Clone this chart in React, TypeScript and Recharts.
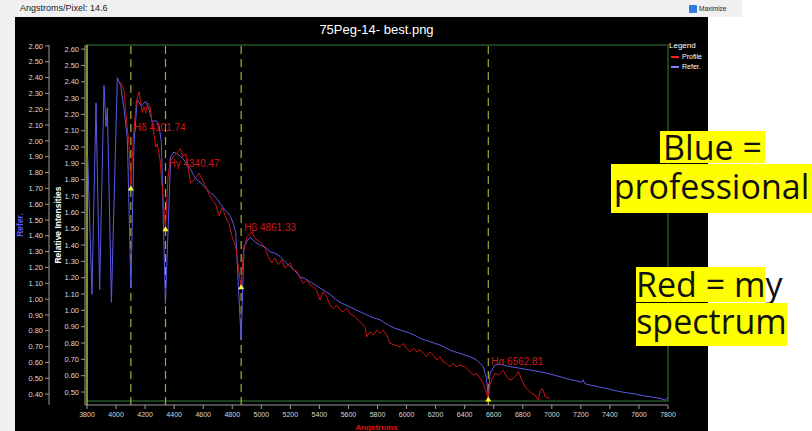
import { ComposedChart, Line, Scatter, XAxis, YAxis, ReferenceLine, ReferenceArea, ReferenceDot, Legend } from 'recharts';

// axis ticks
const xTicks = [3800, 4000, 4200, 4400, 4600, 4800, 5000, 5200, 5400, 5600, 5800, 6000, 6200, 6400, 6600, 6800, 7000, 7200, 7400, 7600, 7800];
const profileTicks = [0.5, 0.6, 0.7, 0.8, 0.9, 1.0, 1.1, 1.2, 1.3, 1.4, 1.5, 1.6, 1.7, 1.8, 1.9, 2.0, 2.1, 2.2, 2.3, 2.4, 2.5, 2.6];
const referTicks = [0.4, 0.5, 0.6, 0.7, 0.8, 0.9, 1.0, 1.1, 1.2, 1.3, 1.4, 1.5, 1.6, 1.7, 1.8, 1.9, 2.0, 2.1, 2.2, 2.3, 2.4, 2.5, 2.6];
const profileDomain = [0.445, 2.625];
const referDomain = [0.356, 2.606];

// reference (professional) spectrum
const refWavelengths = [
  3805, 3834, 3862, 3887, 3917, 3931, 3940, 3968, 4009, 4032, 4055, 4078, 4102, 4124, 4146, 4174, 4204, 4227, 4250, 4273,
  4296, 4312, 4340, 4376, 4399, 4433, 4468, 4490, 4514, 4535, 4559, 4580, 4606, 4630, 4652, 4675, 4697, 4720, 4743, 4765,
  4789, 4810, 4824, 4861, 4881, 4904, 4922, 4960, 4991, 5025, 5060, 5095, 5129, 5160, 5198, 5230, 5267, 5300, 5335, 5370,
  5404, 5440, 5473, 5510, 5542, 5575, 5611, 5645, 5680, 5715, 5748, 5780, 5817, 5850, 5886, 5920, 5955, 5990, 6024, 6060,
  6093, 6130, 6162, 6195, 6230, 6265, 6299, 6330, 6368, 6400, 6437, 6483, 6528, 6550, 6563, 6575, 6609, 6644, 6680, 6712,
  6745, 6781, 6815, 6850, 6885, 6919, 6955, 6988, 7020, 7057, 7090, 7125, 7160, 7194, 7205, 7215, 7228, 7263, 7300, 7332,
  7365, 7401, 7435, 7470, 7505, 7539, 7575, 7607, 7640, 7676, 7710, 7745, 7780, 7800,
];
const refIntensities = [
  1.90, 1.03, 2.24, 1.06, 2.35, 2.09, 2.21, 0.98, 2.40, 2.35, 2.20, 2.01, 1.07, 1.99, 2.26, 2.22, 2.25, 2.20, 2.12, 2.13,
  2.10, 1.99, 0.97, 1.90, 1.93, 1.91, 1.88, 1.85, 1.82, 1.78, 1.75, 1.74, 1.71, 1.69, 1.67, 1.655, 1.63, 1.60, 1.57, 1.55,
  1.52, 1.47, 1.42, 0.74, 1.33, 1.37, 1.39, 1.36, 1.34, 1.33, 1.30, 1.29, 1.27, 1.24, 1.205, 1.18, 1.14, 1.13, 1.11, 1.09,
  1.07, 1.05, 1.03, 1.00, 0.98, 0.965, 0.95, 0.935, 0.92, 0.905, 0.89, 0.88, 0.87, 0.85, 0.83, 0.815, 0.805, 0.795, 0.784, 0.77,
  0.752, 0.74, 0.731, 0.72, 0.71, 0.695, 0.678, 0.668, 0.657, 0.646, 0.636, 0.615, 0.573, 0.50, 0.383, 0.531, 0.584, 0.588, 0.58, 0.573,
  0.568, 0.563, 0.557, 0.552, 0.546, 0.541, 0.534, 0.527, 0.518, 0.51, 0.50, 0.493, 0.485, 0.478, 0.474, 0.49, 0.465, 0.457, 0.45, 0.443,
  0.438, 0.43, 0.422, 0.415, 0.41, 0.405, 0.40, 0.394, 0.388, 0.383, 0.378, 0.373, 0.362, 0.38,
];

// my spectrum (profile)
const profileWavelengths = [
  4024, 4043, 4055, 4066, 4077, 4089, 4102, 4119, 4139, 4158, 4170, 4181, 4192, 4204, 4220, 4234, 4250, 4261, 4273, 4284,
  4303, 4321, 4340, 4358, 4376, 4404, 4427, 4445, 4459, 4480, 4495, 4514, 4537, 4571, 4594, 4617, 4640, 4663, 4686, 4709,
  4732, 4755, 4778, 4800, 4824, 4842, 4861, 4876, 4900, 4934, 4957, 5003, 5026, 5048, 5072, 5094, 5117, 5141, 5163, 5198,
  5220, 5244, 5267, 5289, 5313, 5335, 5358, 5381, 5404, 5427, 5450, 5473, 5496, 5519, 5542, 5565, 5588, 5611, 5645, 5668,
  5691, 5714, 5726, 5748, 5771, 5795, 5817, 5840, 5863, 5886, 5921, 5955, 5978, 6001, 6024, 6047, 6070, 6093, 6116, 6139,
  6162, 6184, 6208, 6230, 6253, 6276, 6299, 6322, 6345, 6368, 6403, 6437, 6460, 6483, 6506, 6528, 6563, 6570, 6586, 6609,
  6632, 6655, 6666, 6690, 6712, 6735, 6758, 6769, 6781, 6793, 6816, 6838, 6862, 6884, 6907, 6919, 6931, 6942, 6953, 6988,
];
const profileIntensities = [
  2.40, 2.38, 2.34, 2.23, 2.12, 2.02, 1.75, 2.06, 2.27, 2.34, 2.27, 2.21, 2.25, 2.21, 2.27, 2.25, 2.13, 2.08, 2.00, 2.02,
  1.92, 1.72, 1.50, 1.82, 1.92, 1.95, 1.97, 1.99, 1.94, 1.96, 1.88, 1.78, 1.80, 1.84, 1.80, 1.76, 1.71, 1.675, 1.65, 1.58,
  1.63, 1.57, 1.53, 1.45, 1.39, 1.27, 1.14, 1.35, 1.45, 1.48, 1.44, 1.41, 1.38, 1.33, 1.29, 1.32, 1.28, 1.31, 1.26, 1.29,
  1.25, 1.24, 1.20, 1.165, 1.185, 1.155, 1.145, 1.124, 1.063, 1.114, 1.083, 1.032, 1.012, 1.032, 1.002, 0.991, 1.012, 0.981, 0.961, 0.94,
  0.92, 0.90, 0.838, 0.869, 0.849, 0.879, 0.859, 0.879, 0.849, 0.798, 0.787, 0.777, 0.798, 0.767, 0.746, 0.767, 0.746, 0.757, 0.737, 0.716,
  0.746, 0.726, 0.696, 0.716, 0.685, 0.675, 0.655, 0.675, 0.655, 0.665, 0.655, 0.624, 0.604, 0.614, 0.583, 0.553, 0.46, 0.532, 0.573, 0.614,
  0.604, 0.624, 0.634, 0.593, 0.573, 0.583, 0.604, 0.624, 0.604, 0.573, 0.532, 0.512, 0.491, 0.481, 0.451, 0.501, 0.522, 0.512, 0.471, 0.461,
];

// hydrogen lines
const lineNames = ['Hδ', 'Hγ', 'Hβ', 'Hα'];
const lineWavelengths = [4101.74, 4340.47, 4861.33, 6562.81];
const lineDips = [1.75, 1.5, 1.144, 0.457];
const lineLabelLevels = [2.12, 1.9, 1.51, 0.69];

const refData = refWavelengths.map((wl, i) => ({ wl, v: refIntensities[i] }));
const profileData = profileWavelengths.map((wl, i) => ({ wl, v: profileIntensities[i] }));
const dipData = lineWavelengths.map((wl, i) => ({ wl, v: lineDips[i] }));

const font = 'Liberation Sans, Arial, sans-serif';

const Marker = (props: any) => {
  const { cx, cy } = props;
  return <polygon points={`${cx - 3},${cy + 2.5} ${cx + 3},${cy + 2.5} ${cx},${cy - 2.5}`} fill="#ffff30" />;
};

const LegendBox = () => (
  <div style={{ fontFamily: font, color: '#fff', lineHeight: '10px' }}>
    <div style={{ fontSize: 8 }}>Legend</div>
    <div style={{ display: 'flex', alignItems: 'center', fontSize: 7, marginTop: 1 }}>
      <span style={{ display: 'inline-block', width: 8, height: 2, background: '#ff2020', margin: '0 3px 0 2px' }} />Profile
    </div>
    <div style={{ display: 'flex', alignItems: 'center', fontSize: 7 }}>
      <span style={{ display: 'inline-block', width: 8, height: 2, background: '#8080ff', margin: '0 3px 0 2px' }} />Refer.
    </div>
  </div>
);

const note = (text: string, left: number, top: number, width: number, height: number, lineHeight: number) => (
  <div style={{
    position: 'absolute', left, top, width, height, background: '#ffff00', color: '#111',
    fontFamily: 'Open Sans, sans-serif', fontSize: 34, lineHeight: `${lineHeight}px`, textAlign: 'center', whiteSpace: 'nowrap',
  }}>{text}</div>
);

export default function App() {
  const tickStyle = { fill: '#d8d8d8', fontSize: 7.5, fontFamily: font };
  return (
    <div style={{ position: 'absolute', left: 0, top: 0, width: 812, height: 431, background: '#fff', overflow: 'hidden' }}>
      {/* window header */}
      <div style={{ position: 'absolute', left: 0, top: 0, width: 742, height: 17, background: '#f0f0f0' }}>
        <span style={{ position: 'absolute', left: 20, top: 3, fontSize: 9, fontFamily: font, color: '#222' }}>Angstroms/Pixel: 14.6</span>
        <div style={{ position: 'absolute', left: 689, top: 5, width: 8, height: 8, background: '#2f7be0', borderRadius: 1 }}>
          <svg width={8} height={8}><polyline points="1.5,4 3.3,6 6.5,1.8" fill="none" stroke="#fff" strokeWidth={1.2} /></svg>
        </div>
        <span style={{ position: 'absolute', left: 699, top: 5, fontSize: 6.5, fontFamily: font, color: '#222' }}>Maximize</span>
      </div>
      <div style={{ position: 'absolute', left: 0, top: 17, width: 15, height: 414, background: '#f0f0f0' }} />
      <div style={{ position: 'absolute', left: 15, top: 17, width: 693, height: 414, background: '#000' }} />
      <div style={{ position: 'absolute', left: 85, top: 22, width: 583, textAlign: 'center', fontSize: 13, lineHeight: '15px', fontFamily: font, color: '#fff' }}>
        75Peg-14- best.png
      </div>

      <div style={{ position: 'absolute', left: 0, top: 0 }}>
        <ComposedChart width={812} height={431} margin={{ top: 45, right: 144, bottom: 0, left: 15 }}>
          <XAxis
            type="number" dataKey="wl" domain={[3800, 7800]} ticks={xTicks} interval={0}
            padding={{ left: 2, right: 0 }} height={26}
            stroke="#9a9a9a" tickSize={4} tickMargin={3}
            tick={{ ...tickStyle, fontSize: 7 }}
            label={{ value: 'Angstroms', position: 'insideBottom', offset: 1, style: { fill: '#e01010', fontSize: 8, fontWeight: 700, fontFamily: font } }}
          />
          <YAxis
            yAxisId="p" type="number" domain={profileDomain} ticks={profileTicks} interval={0} width={36}
            padding={{ top: 0, bottom: 4 }} stroke="#9a9a9a" tickSize={4} tickMargin={2}
            tick={tickStyle} tickFormatter={(v: number) => v.toFixed(2)}
            label={{ value: 'Relative Intensities', angle: -90, position: 'insideLeft', offset: 9, style: { textAnchor: 'middle', fill: '#fff', fontSize: 8.5, fontWeight: 700, fontFamily: font } }}
          />
          <YAxis
            yAxisId="r" type="number" domain={referDomain} ticks={referTicks} interval={0} width={34}
            padding={{ top: 0, bottom: 4 }} stroke="#9a9a9a" tickSize={4} tickMargin={2}
            tick={tickStyle} tickFormatter={(v: number) => v.toFixed(2)}
            label={{ value: 'Refer.', angle: -90, position: 'insideLeft', offset: 5, style: { textAnchor: 'middle', fill: '#5a5aff', fontSize: 8.5, fontWeight: 700, fontFamily: font } }}
          />
          <Legend layout="vertical" align="center" verticalAlign="middle" wrapperStyle={{ left: 669, top: 41, width: 42 }} content={() => <LegendBox />} />

          <ReferenceArea yAxisId="p" x1={3800} x2={7800} y1={profileDomain[0]} y2={profileDomain[1]} fill="none" stroke="#255525" strokeWidth={1.5} ifOverflow="visible" />
          <ReferenceLine yAxisId="p" x={3800} stroke="#a8a838" strokeWidth={1.5} ifOverflow="visible" />
          {lineWavelengths.map((wl) => (
            <ReferenceLine key={wl} yAxisId="p" x={wl} stroke="#a8a83a" strokeWidth={1.2} strokeDasharray="8 5" />
          ))}

          <Line data={refData} dataKey="v" yAxisId="r" type="linear" stroke="#5a5ae6" strokeWidth={1} dot={false} isAnimationActive={false} />
          <Line data={profileData} dataKey="v" yAxisId="p" type="linear" stroke="#cc1414" strokeWidth={1} dot={false} isAnimationActive={false} />
          <Scatter data={dipData} dataKey="v" yAxisId="p" shape={<Marker />} isAnimationActive={false} />

          {lineWavelengths.map((wl, i) => (
            <ReferenceDot
              key={'lbl' + wl} yAxisId="p" x={wl} y={lineLabelLevels[i]} r={0} fill="none" stroke="none"
              label={{ value: `${lineNames[i]} ${wl.toFixed(2)}`, position: 'right', offset: 3, fill: '#d01818', fontSize: 10, fontFamily: font }}
            />
          ))}
        </ComposedChart>
      </div>

      {note('Blue =', 660, 131, 105, 32, 32)}
      {note('professional', 611, 164, 201, 49, 44)}
      {note('Red = my', 636, 267, 129, 35, 35)}
      {note('spectrum', 636, 303, 151, 43, 36)}
    </div>
  );
}
